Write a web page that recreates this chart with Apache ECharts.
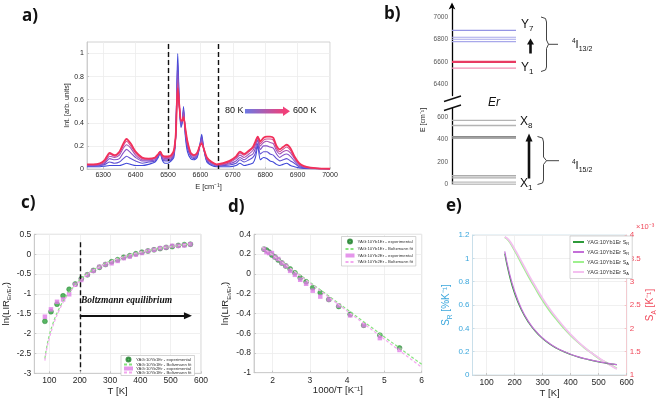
<!DOCTYPE html>
<html><head><meta charset="utf-8">
<script src="https://cdn.jsdelivr.net/npm/echarts@6/dist/echarts.min.js"></script>
<style>html,body{margin:0;padding:0;background:#fff}#c{width:661px;height:400px}</style>
</head><body><div id="c"></div>
<script>
// ---------- DATA ----------
// a) spectra
const specE = [6250,6270,6290,6305,6320,6335,6350,6362,6372,6385,6400,6420,6440,6460,6470,6476,6482,6490,6500,6510,6518,6524,6530,6535,6540,6544,6548,6553,6560,6570,6580,6590,6598,6604,6610,6620,6635,6650,6670,6690,6710,6722,6735,6750,6762,6770,6777,6785,6795,6805,6815,6825,6835,6845,6855,6866,6878,6890,6905,6920,6940,6960,6980,7000];
const specTemps = [80,180,280,380,480,600];
const spec80  = [.02,.02,.02,.025,.03, .03,.03,.04,.05,.04, .03,.03,.04,.06,.10, .14,.08,.05,.05,.07, .10,.30,1.0,.55,.36, .40,.54,.30,.15,.09, .08,.10,.20,.30,.18, .06,.03,.02,.02,.02, .03,.05,.03,.04,.05, .10,.20,.08,.10,.09, .07,.06,.04,.03,.04, .05,.03,.02,.01,.005, .003,.002,.001,.001];
const spec180 = [.025,.025,.03,.04,.06, .05,.06,.09,.11,.09, .07,.05,.06,.07,.11, .145,.09,.07,.07,.08, .12,.30,.92,.55,.38, .41,.52,.32,.18,.11, .09,.11,.20,.28,.18, .07,.04,.025,.03,.035, .05,.08,.06,.08,.10, .14,.22,.13,.15,.15, .13,.12,.09,.07,.08, .09,.07,.05,.02,.01, .005,.003,.002,.001];
const spec280 = [.03,.03,.035,.05,.09, .08,.09,.14,.17,.14, .10,.07,.07,.08,.12, .15,.10,.08,.08,.09, .13,.30,.84,.55,.40, .42,.50,.34,.20,.12, .10,.12,.20,.26,.18, .08,.05,.03,.035,.045, .07,.10,.08,.11,.13, .18,.25,.17,.20,.20, .19,.18,.13,.10,.12, .13,.11,.07,.03,.015, .007,.004,.002,.001];
const spec380 = [.035,.035,.04,.06,.11, .10,.12,.18,.21,.18, .12,.08,.08,.09,.125, .15,.11,.09,.09,.10, .14,.30,.78,.55,.41, .42,.48,.35,.22,.13, .11,.13,.20,.24,.18, .09,.055,.035,.04,.055, .09,.12,.10,.13,.16, .21,.27,.20,.23,.24, .23,.22,.16,.13,.15, .16,.14,.09,.04,.02, .009,.005,.003,.001];
const spec480 = [.038,.038,.045,.07,.13, .11,.14,.20,.24,.20, .14,.09,.085,.095,.13, .15,.115,.10,.10,.11, .15,.30,.74,.55,.42, .42,.46,.36,.23,.14, .115,.135,.20,.23,.18, .095,.058,.038,.045,.062, .10,.14,.12,.15,.18, .23,.28,.22,.25,.26, .26,.25,.18,.15,.17, .19,.16,.10,.045,.022, .01,.005,.003,.001];
const spec600 = [.04,.04,.05,.08,.14, .12,.15,.22,.26,.22, .15,.10,.09,.10,.13, .15,.12,.11,.11,.12, .16,.30,.70,.55,.42, .42,.45,.36,.24,.14, .12,.14,.20,.22,.18, .10,.06,.04,.05,.07, .11,.15,.13,.16,.19, .24,.28,.24,.27,.28, .28,.27,.20,.17,.19, .21,.18,.11,.05,.025, .012,.006,.003,.002];
const aDashed = [6500, 6655];
const aXTicks = [6300,6400,6500,6600,6700,6800,6900,7000];
const aYTicks = [0,0.2,0.4,0.6,0.8,1];

// b) energy levels
const bUpperLevels = [6544, 6596, 6602, 6779, 6800, 6818, 6879];
const bLowerLevels = [0, 19, 57, 76, 411, 424, 523, 568];
const bUpperTicks = [6400, 6600, 6800, 7000];
const bLowerTicks = [0, 200, 400, 600];

// c) ln(LIR) vs T
const cT = [85,105,125,145,165,185,205,225,245,265,285,305,325,345,365,385,405,425,445,465,485,505,525,545,565];
const cExp1 = [-1.69,-1.45,-1.26,-1.05,-0.885,-0.75,-0.62,-0.52,-0.41,-0.33,-0.26,-0.19,-0.14,-0.08,-0.04,0.01,0.05,0.08,0.11,0.14,0.17,0.19,0.22,0.24,0.25];
const cExp2 = [-1.575,-1.39,-1.20,-1.14,-1.01,-0.77,-0.65,-0.52,-0.42,-0.32,-0.26,-0.23,-0.17,-0.10,-0.06,-0.01,0.03,0.08,0.11,0.15,0.17,0.21,0.21,0.22,0.25];
const cFitT = [85,90,100,110,120,130,140,150,160,170,180,190,200,220,240,260,280,300,330,360,400,450,500,550,565];
const cFit1 = [-2.63,-2.38,-2.03,-1.78,-1.57,-1.40,-1.25,-1.12,-1.01,-0.91,-0.82,-0.73,-0.65,-0.52,-0.42,-0.33,-0.25,-0.18,-0.10,-0.03,0.05,0.13,0.19,0.24,0.26];
const cFit2 = [-2.68,-2.43,-2.11,-1.85,-1.63,-1.45,-1.29,-1.15,-1.03,-0.93,-0.83,-0.75,-0.67,-0.54,-0.43,-0.34,-0.26,-0.19,-0.10,-0.03,0.05,0.13,0.19,0.245,0.26];
const cEquilT = 200;
const cArrow = [[200, -1.55], [557, -1.55]];
const cTTicks = [100,200,300,400,500,600];

// d) ln(LIR) vs 1000/T (points with T >= 185 K)
const dMinT = 185;
const dFitX = [1.72, 6];
const dFit1 = [0.27, -0.915];
const dFit2 = [0.27, -0.945];
const dXTicks = [2,3,4,5,6];

// e) sensitivities
const eT   = [165,180,200,225,250,275,300,325,350,375,400,425,450,475,500,525,550,565];
const eSR1 = [1.04,0.87,0.70,0.555,0.45,0.372,0.312,0.266,0.229,0.200,0.176,0.156,0.139,0.125,0.112,0.102,0.093,0.088];
const eSR2 = [1.06,0.89,0.72,0.566,0.458,0.378,0.317,0.270,0.232,0.203,0.178,0.158,0.141,0.127,0.114,0.103,0.094,0.089];
const eSA1 = [3.95,3.87,3.67,3.39,3.11,2.85,2.60,2.38,2.19,2.01,1.85,1.71,1.58,1.47,1.36,1.27,1.19,1.14];
const eSA2 = [3.96,3.89,3.70,3.43,3.15,2.89,2.64,2.42,2.22,2.04,1.87,1.72,1.59,1.47,1.37,1.27,1.18,1.13];

// names
const N_E1 = 'YAG:10Yb1Er - experimental';
const N_F1 = 'YAG:10Yb1Er - Boltzmann fit';
const N_E2 = 'YAG:10Yb2Er - experimental';
const N_F2c = 'YAG:10Yb1Er - Boltzmann fit ';
const N_F2d = 'YAG:10Yb2Er - Boltzmann fit';
const N_SR1 = 'YAG:10Yb1Er S_R', N_SR2 = 'YAG:10Yb2Er S_R', N_SA1 = 'YAG:10Yb1Er S_A', N_SA2 = 'YAG:10Yb2Er S_A';

// ---------- STYLE ----------
const FONT = 'Liberation Sans';
const specColors = ['#4048d8','#6050d4','#8452c8','#a652b4','#d24a8e','#f2305a'];
const upperColors = ['#f28fb4','#e83a62','#e83a62','#a8a8ea','#a8a8ea','#a8a8ea','#9494e4'];
const lowerColors = ['#c2c2c2','#bcbcbc','#acacac','#acacac','#8c8c8c','#8c8c8c','#b4b4b4','#b4b4b4'];
const G_PT = '#2ea23c', P_PT = '#df7ce6', G_FIT = '#86e27e', P_FIT = '#f3a8ef';
const fmt = v => String(Math.round(v * 1000) / 1000);

function mkAxis(p) {
  const lc = p.lineColor || '#c6c6c6';
  return {
    type: 'value', gridIndex: p.grid, min: p.min, max: p.max, interval: p.interval,
    position: p.position, show: p.show !== false,
    name: p.name || '', nameLocation: 'middle', nameGap: p.nameGap || 12, nameRotate: p.nameRotate,
    nameTextStyle: Object.assign({color: '#262626', fontSize: 9.5, fontFamily: FONT}, p.nameStyle || {}),
    axisLine: Object.assign({show: true, onZero: false, lineStyle: {color: lc, width: p.lineWidth || 0.8}}, p.axisLineExtra || {}),
    axisTick: {show: p.ticks !== false, inside: true, length: 2, lineStyle: {color: lc}, customValues: p.custom},
    axisLabel: {color: p.labelColor || '#262626', fontSize: p.fontSize || 8.5, margin: p.margin || 3, fontFamily: FONT,
      customValues: p.custom, formatter: fmt},
    splitLine: {show: p.split !== false, lineStyle: {color: '#ececec', width: 0.8}}
  };
}
const subRich = (big, small, color) => ({
  a: {fontSize: big, lineHeight: big + 4, fontFamily: FONT, color: color},
  s: {fontSize: small, lineHeight: small, verticalAlign: 'bottom', fontFamily: FONT, color: color}
});

const grids = [
  {left: 87, top: 42, width: 243, height: 127, show: true, borderColor: '#c6c6c6', borderWidth: 0.8},
  {left: 452, top: 5.5, width: 64, height: 90, show: false},
  {left: 452, top: 107.8, width: 64, height: 76.5, show: false},
  {left: 33, top: 234.3, width: 168, height: 139, show: true, borderColor: '#c6c6c6', borderWidth: 0.8},
  {left: 254, top: 234.3, width: 167.7, height: 138.4, show: true, borderColor: '#c6c6c6', borderWidth: 0.8},
  {left: 472.5, top: 235, width: 154.2, height: 140, show: true, borderColor: '#c6dde8', borderWidth: 0.8}
];

const xAxes = [
  mkAxis({grid: 0, min: 6250, max: 7000, custom: aXTicks, fontSize: 7, name: 'E [cm⁻¹]', nameGap: 14, nameStyle: {fontSize: 7.5}}),
  mkAxis({grid: 1, min: 0, max: 1, show: false}),
  mkAxis({grid: 2, min: 0, max: 1, show: false}),
  mkAxis({grid: 3, min: 50, max: 600, custom: cTTicks, name: 'T [K]', nameGap: 12}),
  mkAxis({grid: 4, min: 1.5, max: 6, custom: dXTicks, name: '1000/T [K⁻¹]', nameGap: 12}),
  mkAxis({grid: 5, min: 50, max: 600, custom: cTTicks, name: 'T [K]', nameGap: 11})
];
const yAxes = [
  mkAxis({grid: 0, min: 0, max: 1.1, custom: aYTicks, fontSize: 7, name: 'Int. [arb. units]', nameGap: 15, nameStyle: {fontSize: 7}}),
  mkAxis({grid: 1, min: 6300, max: 7100, custom: bUpperTicks, fontSize: 6.5, labelColor: '#555', margin: 4, split: false, ticks: false,
          lineColor: '#000', lineWidth: 1.3, axisLineExtra: {symbol: ['none', 'arrow'], symbolSize: [5, 7], symbolOffset: [0, 3]}}),
  mkAxis({grid: 2, min: 0, max: 680, custom: bLowerTicks, fontSize: 6.5, labelColor: '#555', margin: 4, split: false, ticks: false,
          lineColor: '#000', lineWidth: 1.3}),
  mkAxis({grid: 3, min: -3, max: 0.5, interval: 0.5, name: "{a|ln(LIR}{s|Er/Er'}{a|)}", nameGap: 17,
          nameStyle: {rich: subRich(9.5, 6, '#262626')}}),
  mkAxis({grid: 4, min: -1, max: 0.4, interval: 0.2, name: "{a|ln(LIR}{s|Er/Er'}{a|)}", nameGap: 15,
          nameStyle: {rich: subRich(9.5, 6, '#262626')}}),
  mkAxis({grid: 5, min: 0, max: 1.2, interval: 0.2, labelColor: '#3aa6dc', fontSize: 8, lineColor: '#c6dde8',
          name: '{a|S}{s|R}{a| [%K⁻¹]}', nameGap: 19, nameStyle: {rich: subRich(10, 6.5, '#3aa6dc')}}),
  mkAxis({grid: 5, min: 1, max: 4, interval: 0.5, position: 'right', labelColor: '#f0485a', fontSize: 8, lineColor: '#f5c3c8', split: false,
          name: '{a|S}{s|A}{a| [K⁻¹]}', nameGap: 17, nameRotate: 90, nameStyle: {rich: subRich(10, 6.5, '#f0485a')}})
];

// ---------- SERIES ----------
const series = [];
const specs = [spec80, spec180, spec280, spec380, spec480, spec600];
specs.forEach((arr, i) => {
  const s = {
    type: 'line', name: specTemps[i] + ' K', xAxisIndex: 0, yAxisIndex: 0, showSymbol: false, symbol: 'none',
    smooth: 0.25, silent: true, data: specE.map((e, j) => [e, arr[j]]),
    lineStyle: {color: specColors[i], width: i === specs.length - 1 ? 1.8 : 1.1}, z: 2 + i
  };
  if (i === specs.length - 1) {
    s.markLine = {silent: true, symbol: 'none', label: {show: false},
      lineStyle: {color: '#111', type: [5, 3], width: 1.4}, data: aDashed.map(v => ({xAxis: v}))};
  }
  series.push(s);
});
bUpperLevels.forEach((E, i) => series.push({type: 'line', xAxisIndex: 1, yAxisIndex: 1, symbol: 'none', silent: true,
  data: [[0, E], [1, E]], lineStyle: {color: upperColors[i], width: (i === 1 || i === 2) ? 1.4 : 1.2}}));
bLowerLevels.forEach((E, i) => series.push({type: 'line', xAxisIndex: 2, yAxisIndex: 2, symbol: 'none', silent: true,
  data: [[0, E], [1, E]], lineStyle: {color: lowerColors[i], width: 1.4}}));

// c
series.push({type: 'line', name: N_F1, xAxisIndex: 3, yAxisIndex: 3, symbol: 'none', smooth: true,
  data: cFitT.map((t, j) => [t, cFit1[j]]), lineStyle: {color: G_FIT, width: 1.2, type: [3, 2]}, itemStyle: {color: G_FIT},
  markLine: {silent: true, symbol: 'none', label: {show: false}, lineStyle: {color: '#111', type: [5, 3], width: 1.4},
    data: [[{coord: [cEquilT, 0.3]}, {coord: [cEquilT, -2.95]}]]}});
series.push({type: 'line', name: N_F2c, xAxisIndex: 3, yAxisIndex: 3, symbol: 'none', smooth: true,
  data: cFitT.map((t, j) => [t, cFit2[j]]), lineStyle: {color: P_FIT, width: 1.2, type: [3, 2]}, itemStyle: {color: P_FIT},
  markLine: {silent: true, symbol: ['none', 'triangle'], symbolSize: [7, 8], label: {show: false},
    lineStyle: {color: '#111', type: 'solid', width: 1.8},
    data: [[{coord: cArrow[0], symbol: 'none'}, {coord: cArrow[1]}]]}});
series.push({type: 'scatter', name: N_E1, xAxisIndex: 3, yAxisIndex: 3, symbol: 'circle', symbolSize: 5,
  data: cT.map((t, j) => [t, cExp1[j]]), itemStyle: {color: G_PT, borderColor: '#1f7d2c', borderWidth: 0.5}});
series.push({type: 'scatter', name: N_E2, xAxisIndex: 3, yAxisIndex: 3, symbol: 'rect', symbolSize: 4.5,
  data: cT.map((t, j) => [t, cExp2[j]]), itemStyle: {color: P_PT}});

// d
const dIdx = cT.map((t, j) => j).filter(j => cT[j] >= dMinT);
series.push({type: 'line', name: N_F1, xAxisIndex: 4, yAxisIndex: 4, symbol: 'none',
  data: dFitX.map((x, j) => [x, dFit1[j]]), lineStyle: {color: G_FIT, width: 1.2, type: [3, 2]}, itemStyle: {color: G_FIT}});
series.push({type: 'line', name: N_F2d, xAxisIndex: 4, yAxisIndex: 4, symbol: 'none',
  data: dFitX.map((x, j) => [x, dFit2[j]]), lineStyle: {color: P_FIT, width: 1.2, type: [3, 2]}, itemStyle: {color: P_FIT}});
series.push({type: 'scatter', name: N_E1, xAxisIndex: 4, yAxisIndex: 4, symbol: 'circle', symbolSize: 5,
  data: dIdx.map(j => [1000 / cT[j], cExp1[j]]), itemStyle: {color: G_PT, borderColor: '#1f7d2c', borderWidth: 0.5}});
series.push({type: 'scatter', name: N_E2, xAxisIndex: 4, yAxisIndex: 4, symbol: 'rect', symbolSize: 4.5,
  data: dIdx.map(j => [1000 / cT[j], cExp2[j]]), itemStyle: {color: P_PT}});

// e
series.push({type: 'line', name: N_SA1, xAxisIndex: 5, yAxisIndex: 6, symbol: 'none', smooth: true,
  data: eT.map((t, j) => [t, eSA1[j]]), lineStyle: {color: '#9ef08e', width: 1.8}, itemStyle: {color: '#9ef08e'}});
series.push({type: 'line', name: N_SA2, xAxisIndex: 5, yAxisIndex: 6, symbol: 'none', smooth: true,
  data: eT.map((t, j) => [t, eSA2[j]]), lineStyle: {color: '#f4c0f0', width: 1.8}, itemStyle: {color: '#f4c0f0'}});
series.push({type: 'line', name: N_SR1, xAxisIndex: 5, yAxisIndex: 5, symbol: 'none', smooth: true,
  data: eT.map((t, j) => [t, eSR1[j]]), lineStyle: {color: '#2e9a3a', width: 1.2}, itemStyle: {color: '#2e9a3a'}});
series.push({type: 'line', name: N_SR2, xAxisIndex: 5, yAxisIndex: 5, symbol: 'none', smooth: true,
  data: eT.map((t, j) => [t, eSR2[j]]), lineStyle: {color: '#c46ed8', width: 1.2}, itemStyle: {color: '#c46ed8'}});

// ---------- LEGENDS ----------
const lineItem = n => ({name: n, itemStyle: {opacity: 0}});
const legBase = {orient: 'vertical', backgroundColor: '#fff', borderColor: '#b8b8b8', borderWidth: 0.6, selectedMode: false};
const legends = [
  Object.assign({}, legBase, {left: 121, top: 355.5, padding: [1, 2, 1, 2], itemGap: 0, itemWidth: 9, itemHeight: 4,
    textStyle: {fontSize: 4.3, lineHeight: 4, color: '#333', fontFamily: FONT, padding: [0, 0, 0, -2]},
    data: [N_E1, lineItem(N_F1), N_E2, lineItem(N_F2c)]}),
  Object.assign({}, legBase, {left: 341.5, top: 236.5, padding: [2, 3, 2, 3], itemGap: 2.5, itemWidth: 9, itemHeight: 4,
    textStyle: {fontSize: 4.3, lineHeight: 4, color: '#333', fontFamily: FONT, padding: [0, 0, 0, -2]},
    data: [N_E1, lineItem(N_F1), N_E2, lineItem(N_F2d)]}),
  Object.assign({}, legBase, {left: 570, top: 236, padding: [3, 3, 3, 2], itemGap: 3.5, itemWidth: 11, itemHeight: 5,
    textStyle: {fontSize: 5.5, color: '#333', fontFamily: FONT, padding: [0, 0, 0, -2],
      rich: {t: {fontSize: 5.5, lineHeight: 7, fontFamily: FONT, color: '#333'}, s: {fontSize: 4, lineHeight: 4, verticalAlign: 'bottom', fontFamily: FONT, color: '#333'}}},
    formatter: n => { const m = n.match(/^(.*) S_(\w)$/); return '{t|' + m[1] + ' S}{s|' + m[2] + '}'; },
    data: [lineItem(N_SR1), lineItem(N_SR2), lineItem(N_SA1), lineItem(N_SA2)]})
];

// ---------- ANNOTATIONS ----------
const T = (x, y, text, font, extra) => Object.assign({type: 'text', x: x, y: y, z: 100, silent: true,
  style: Object.assign({text: text, font: font, fill: '#111', align: 'left', verticalAlign: 'middle'}, extra || {})});
const termRich = {p: {fontSize: 6.5, lineHeight: 6, verticalAlign: 'top', fontFamily: FONT, fill: '#111'},
  m: {fontSize: 11, lineHeight: 15, fontFamily: FONT, fill: '#111'},
  s: {fontSize: 7, lineHeight: 7, verticalAlign: 'bottom', fontFamily: FONT, fill: '#111'}};
const levRich = {m: {fontSize: 12, lineHeight: 15, fontFamily: FONT, fill: '#111'},
  s: {fontSize: 8, lineHeight: 8, verticalAlign: 'bottom', fontFamily: FONT, fill: '#111'}};
const PF = 'bold 17px "Open Sans"';
const graphic = [
  T(22, 16, 'a)', PF), T(384, 14, 'b)', PF), T(21, 203, 'c)', PF), T(228, 207, 'd)', PF), T(446, 206, 'e)', PF),
  // a legend arrow
  T(225, 111, '80 K', '9px "Liberation Sans"'),
  {type: 'rect', z: 100, silent: true, shape: {x: 245, y: 109, width: 39, height: 4.5},
    style: {fill: new echarts.graphic.LinearGradient(0, 0, 1, 0, [{offset: 0, color: '#6c78e4'}, {offset: 1, color: '#f0407a'}])}},
  {type: 'polygon', z: 100, silent: true, shape: {points: [[283, 106.5], [290, 111.2], [283, 116]]}, style: {fill: '#f0407a'}},
  T(293, 111, '600 K', '9px "Liberation Sans"'),
  // b
  T(521, 25, '{m|Y}{s|7}', '12px "Liberation Sans"', {rich: levRich}),
  T(521, 68, '{m|Y}{s|1}', '12px "Liberation Sans"', {rich: levRich}),
  T(520, 122, '{m|X}{s|8}', '12px "Liberation Sans"', {rich: levRich}),
  T(520, 184, '{m|X}{s|1}', '12px "Liberation Sans"', {rich: levRich}),
  T(488, 103, 'Er', 'italic 12px "Liberation Sans"'),
  T(572, 45, '{p|4}{m|I}{s|13/2}', '11px "Liberation Sans"', {rich: termRich}),
  T(572, 166, '{p|4}{m|I}{s|15/2}', '11px "Liberation Sans"', {rich: termRich}),
  {type: 'text', x: 423, y: 120, rotation: Math.PI / 2, z: 100, silent: true,
    style: {text: 'E [cm⁻¹]', font: '7px "Liberation Sans"', fill: '#222', align: 'center', verticalAlign: 'middle'}},
  {type: 'line', z: 100, silent: true, shape: {x1: 444, y1: 101.5, x2: 461, y2: 96}, style: {stroke: '#111', lineWidth: 1.4}},
  {type: 'line', z: 100, silent: true, shape: {x1: 444, y1: 110.5, x2: 461, y2: 105}, style: {stroke: '#111', lineWidth: 1.4}},
  {type: 'polyline', z: 100, silent: true, shape: {points: [[541, 17], [545.5, 18.5], [546.5, 22], [546.5, 40], [548.5, 44.3], [546.5, 48.5], [546.5, 67], [545.5, 70], [541, 71.5]]},
    style: {stroke: '#444', lineWidth: 1, fill: null}},
  {type: 'line', z: 100, silent: true, shape: {x1: 548.5, y1: 44.3, x2: 558, y2: 44.3}, style: {stroke: '#444', lineWidth: 1}},
  {type: 'polyline', z: 100, silent: true, shape: {points: [[537.5, 136.5], [542.5, 138], [543.5, 142], [543.5, 157], [546.5, 160.7], [543.5, 164.5], [543.5, 180], [542.5, 183], [537.5, 184.5]]},
    style: {stroke: '#444', lineWidth: 1, fill: null}},
  {type: 'line', z: 100, silent: true, shape: {x1: 546.5, y1: 160.7, x2: 559, y2: 160.7}, style: {stroke: '#444', lineWidth: 1}},
  {type: 'line', z: 100, silent: true, shape: {x1: 530.5, y1: 53.5, x2: 530.5, y2: 44}, style: {stroke: '#111', lineWidth: 2.6}},
  {type: 'polygon', z: 100, silent: true, shape: {points: [[527, 44.5], [530.5, 38.5], [534, 44.5]]}, style: {fill: '#111'}},
  {type: 'line', z: 100, silent: true, shape: {x1: 529, y1: 178.5, x2: 529, y2: 141}, style: {stroke: '#111', lineWidth: 2.6}},
  {type: 'polygon', z: 100, silent: true, shape: {points: [[525.5, 141.5], [529, 133.5], [532.5, 141.5]]}, style: {fill: '#111'}},
  // c
  T(81, 301, 'Boltzmann equilibrium', 'italic bold 9.5px "Liberation Serif"'),
  // e
  T(636, 227, '×10⁻³', '7.5px "Liberation Sans"', {fill: '#f0485a'})
];

const chart = echarts.init(document.getElementById('c'), null, {renderer: 'canvas'});
chart.setOption({
  animation: false, backgroundColor: '#fff',
  grid: grids, xAxis: xAxes, yAxis: yAxes, series: series, legend: legends, graphic: graphic
});
</script></body></html>
